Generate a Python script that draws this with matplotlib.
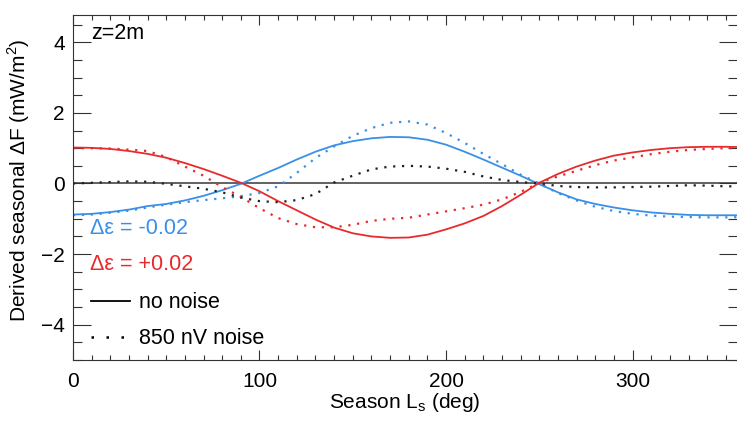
import numpy as np
import matplotlib.pyplot as plt
from matplotlib.lines import Line2D
from matplotlib.ticker import MultipleLocator

plt.rcParams['font.family'] = ['Liberation Sans', 'DejaVu Sans']

# season (deg) and derived seasonal flux change (mW/m^2)
ls_deg = np.arange(0, 361, 10)

blue_clean = [-0.88, -0.86, -0.81, -0.74, -0.64, -0.58, -0.48, -0.35, -0.19, -0.01,
              0.22, 0.44, 0.68, 0.9, 1.08, 1.2, 1.28, 1.32, 1.31, 1.24,
              1.1, 0.9, 0.68, 0.45, 0.22, -0.02, -0.25, -0.45, -0.58, -0.68,
              -0.76, -0.82, -0.86, -0.89, -0.9, -0.9, -0.9]
red_clean = [1.02, 1.01, 0.98, 0.92, 0.84, 0.73, 0.58, 0.41, 0.22, 0.02,
             -0.22, -0.5, -0.76, -1.02, -1.25, -1.41, -1.5, -1.54, -1.53, -1.45,
             -1.3, -1.13, -0.92, -0.64, -0.32, 0.02, 0.27, 0.48, 0.65, 0.79,
             0.88, 0.95, 1.0, 1.03, 1.04, 1.04, 1.03]
blue_noisy = [-0.9, -0.88, -0.83, -0.77, -0.68, -0.6, -0.53, -0.47, -0.42, -0.36,
              -0.27, -0.08, 0.3, 0.72, 1.05, 1.35, 1.57, 1.72, 1.76, 1.67,
              1.43, 1.15, 0.84, 0.55, 0.25, 0.0, -0.27, -0.48, -0.66, -0.78,
              -0.86, -0.91, -0.94, -0.95, -0.96, -0.96, -0.95]
red_noisy = [1.0, 1.0, 0.99, 0.96, 0.92, 0.75, 0.48, 0.22, -0.1, -0.38,
             -0.7, -0.98, -1.15, -1.24, -1.24, -1.17, -1.06, -1.0, -0.97, -0.88,
             -0.79, -0.7, -0.6, -0.45, -0.24, 0.02, 0.2, 0.36, 0.52, 0.65,
             0.74, 0.83, 0.9, 0.95, 0.98, 1.0, 1.0]
diff_noisy = [0.0, 0.02, 0.04, 0.06, 0.05, -0.01, -0.08, -0.15, -0.25, -0.4,
              -0.5, -0.53, -0.47, -0.3, 0.03, 0.22, 0.4, 0.48, 0.5, 0.48,
              0.42, 0.33, 0.2, 0.1, 0.04, 0.0, -0.07, -0.1, -0.11, -0.11,
              -0.1, -0.09, -0.07, -0.05, -0.06, -0.08, -0.08]

blue = '#3a8fe8'
red = '#e82a2c'
dots = (0, (1, 3))

fig = plt.figure(figsize=(7.37, 4.21), dpi=100)
ax = fig.add_axes([0.099, 0.145, 0.901, 0.819])

ax.axhline(0, color='#555555', lw=1.3, zorder=1)
ax.plot(ls_deg, blue_clean, color=blue, lw=1.3)
ax.plot(ls_deg, red_clean, color=red, lw=1.3)
ax.plot(ls_deg, blue_noisy, color=blue, lw=1.6, ls=dots)
ax.plot(ls_deg, red_noisy, color=red, lw=1.6, ls=dots)
ax.plot(ls_deg, diff_noisy, color='#222222', lw=1.6, ls=dots)

ax.set_xlim(0, 356)
ax.set_ylim(-5, 4.77)
ax.xaxis.set_major_locator(MultipleLocator(100))
ax.xaxis.set_minor_locator(MultipleLocator(10))
ax.yaxis.set_major_locator(MultipleLocator(2))
ax.yaxis.set_minor_locator(MultipleLocator(0.5))
ax.tick_params(which='both', direction='in', top=True, right=True,
               labelsize=15, color='#333333', width=0.8)
ax.tick_params(axis='x', which='major', length=7, pad=9)
ax.tick_params(axis='x', which='minor', length=3.5)
ax.tick_params(axis='y', which='major', length=13, pad=6)
ax.tick_params(axis='y', which='minor', length=6.5)
ax.spines['right'].set_visible(False)
for side in ('left', 'bottom', 'top'):
    ax.spines[side].set_color('#333333')
    ax.spines[side].set_linewidth(0.8)

ax.set_xlabel('Season L$_\\mathregular{s}$ (deg)', fontsize=15, labelpad=0)
ax.set_ylabel('Derived seasonal \u0394F (mW/m$^\\mathregular{2}$)', fontsize=15)
ax.yaxis.set_label_coords(-0.062, 0.52)

ax.text(0.028, 0.947, 'z=2m', transform=ax.transAxes, fontsize=15.5, va='center')
ax.text(0.026, 0.38, '\u0394\u03b5 = -0.02', transform=ax.transAxes,
        fontsize=15.5, color=blue, va='center')
ax.text(0.026, 0.278, '\u0394\u03b5 = +0.02', transform=ax.transAxes,
        fontsize=15.5, color=red, va='center')

handles = [Line2D([], [], color='black', lw=1.3),
           Line2D([], [], color='black', lw=1.8, ls=(0, (1, 5)))]
ax.legend(handles, ['no noise', '850 nV noise'], loc='lower left',
          bbox_to_anchor=(-0.002, -0.025), frameon=False, fontsize=15.5,
          handlelength=1.8, handletextpad=0.45, labelspacing=0.7)

fig.savefig('out.png', dpi=100)
